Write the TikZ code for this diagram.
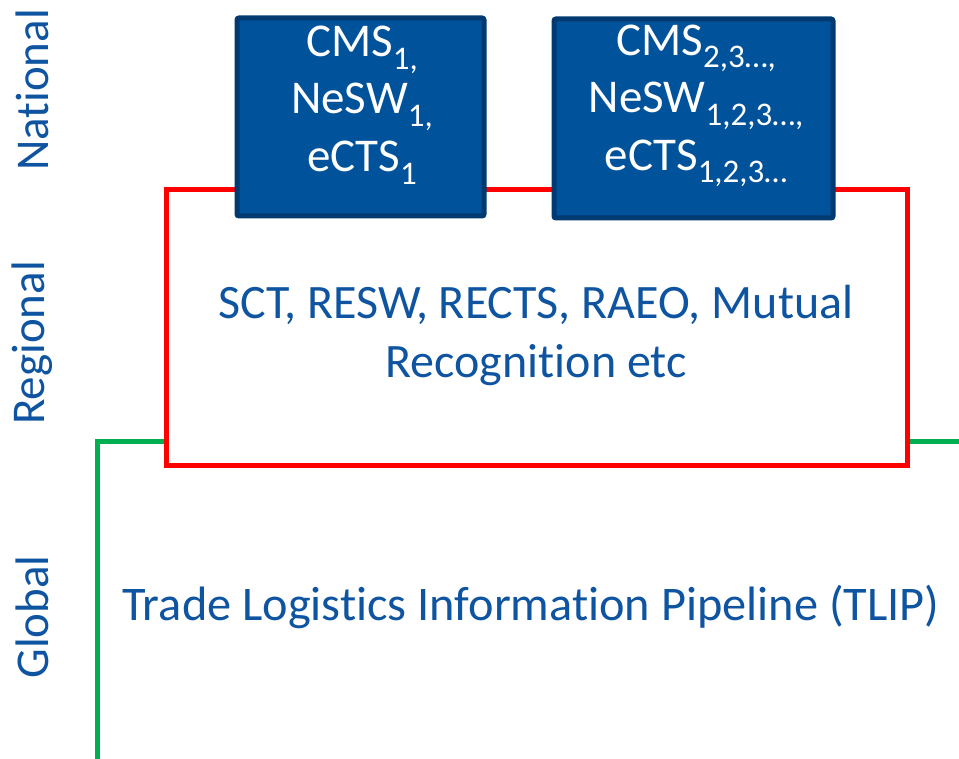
\documentclass[tikz,border=0pt]{standalone}
\usepackage{fontspec}
\setmainfont{Carlito}
\usepackage{xcolor}
\definecolor{tlipblue}{RGB}{14,84,160}
\definecolor{boxblue}{RGB}{0,82,155}
\definecolor{boxedge}{RGB}{0,58,112}
\definecolor{offgreen}{RGB}{0,176,80}
\newcommand{\lowidx}[1]{\raisebox{-0.27em}{\fontsize{33}{33}\selectfont #1}}
% keeps t and i apart (Carlito joins them otherwise)
\newcommand{\ti}{t\kern0pt i}

\begin{document}
\begin{tikzpicture}[x=1pt, y=-1pt,
    level/.style={text=tlipblue, rotate=90, font=\fontsize{47}{56}\selectfont},
    natbox/.style={draw=boxedge, fill=boxblue, line width=5pt, rounded corners=2pt},
    nattext/.style={text=white, align=center, font=\fontsize{47}{57.5}\selectfont, inner sep=0pt},
    regline/.style={draw=red, line width=5pt},
    globline/.style={draw=offgreen, line width=5pt}]
\useasboundingbox (0,0) rectangle (959,759);

% tiers on the left
\node[level] (national) at (32,90) {Na\ti onal};
\node[level] (regionaltag) at (32,343) {Regional};
\node[level] (globaltag) at (32,617) {Global};

% regional frame
\node[regline, minimum width=741pt, minimum height=275pt] (regional) at (536.5,327.5) {};
\node[text=tlipblue, align=center, font=\fontsize{48}{59}\selectfont] (regtext) at (536,335)
    {SCT, RESW, RECTS, RAEO, Mutual\\Recogni\ti on etc};

% global pipeline
\coordinate (gbase) at (97,759);
\coordinate (gend) at (959,441);
\draw[globline] (gbase) |- (regional.west |- gend);
\draw[globline] (regional.east |- gend) -- (gend);
\node[text=tlipblue, font=\fontsize{48.3}{56}\selectfont] (tlip) at (531,607) {Trade Logis\ti cs Informa\ti on Pipeline (TLIP)};

% national systems
\node[natbox, minimum width=247pt, minimum height=198pt] (nat1) at (360.5,117) {};
\node[nattext] (nat1text) at (362,105) {CMS\lowidx{1,}\\NeSW\lowidx{1,}\\eCTS\lowidx{1}};
\node[natbox, minimum width=279pt, minimum height=199pt] (nat2) at (693.5,118.5) {};
\node[nattext] (nat2text) at (696,106) {CMS\lowidx{2,3…,}\\NeSW\lowidx{1,2,3…,}\\eCTS\lowidx{1,2,3…}};
\end{tikzpicture}
\end{document}
